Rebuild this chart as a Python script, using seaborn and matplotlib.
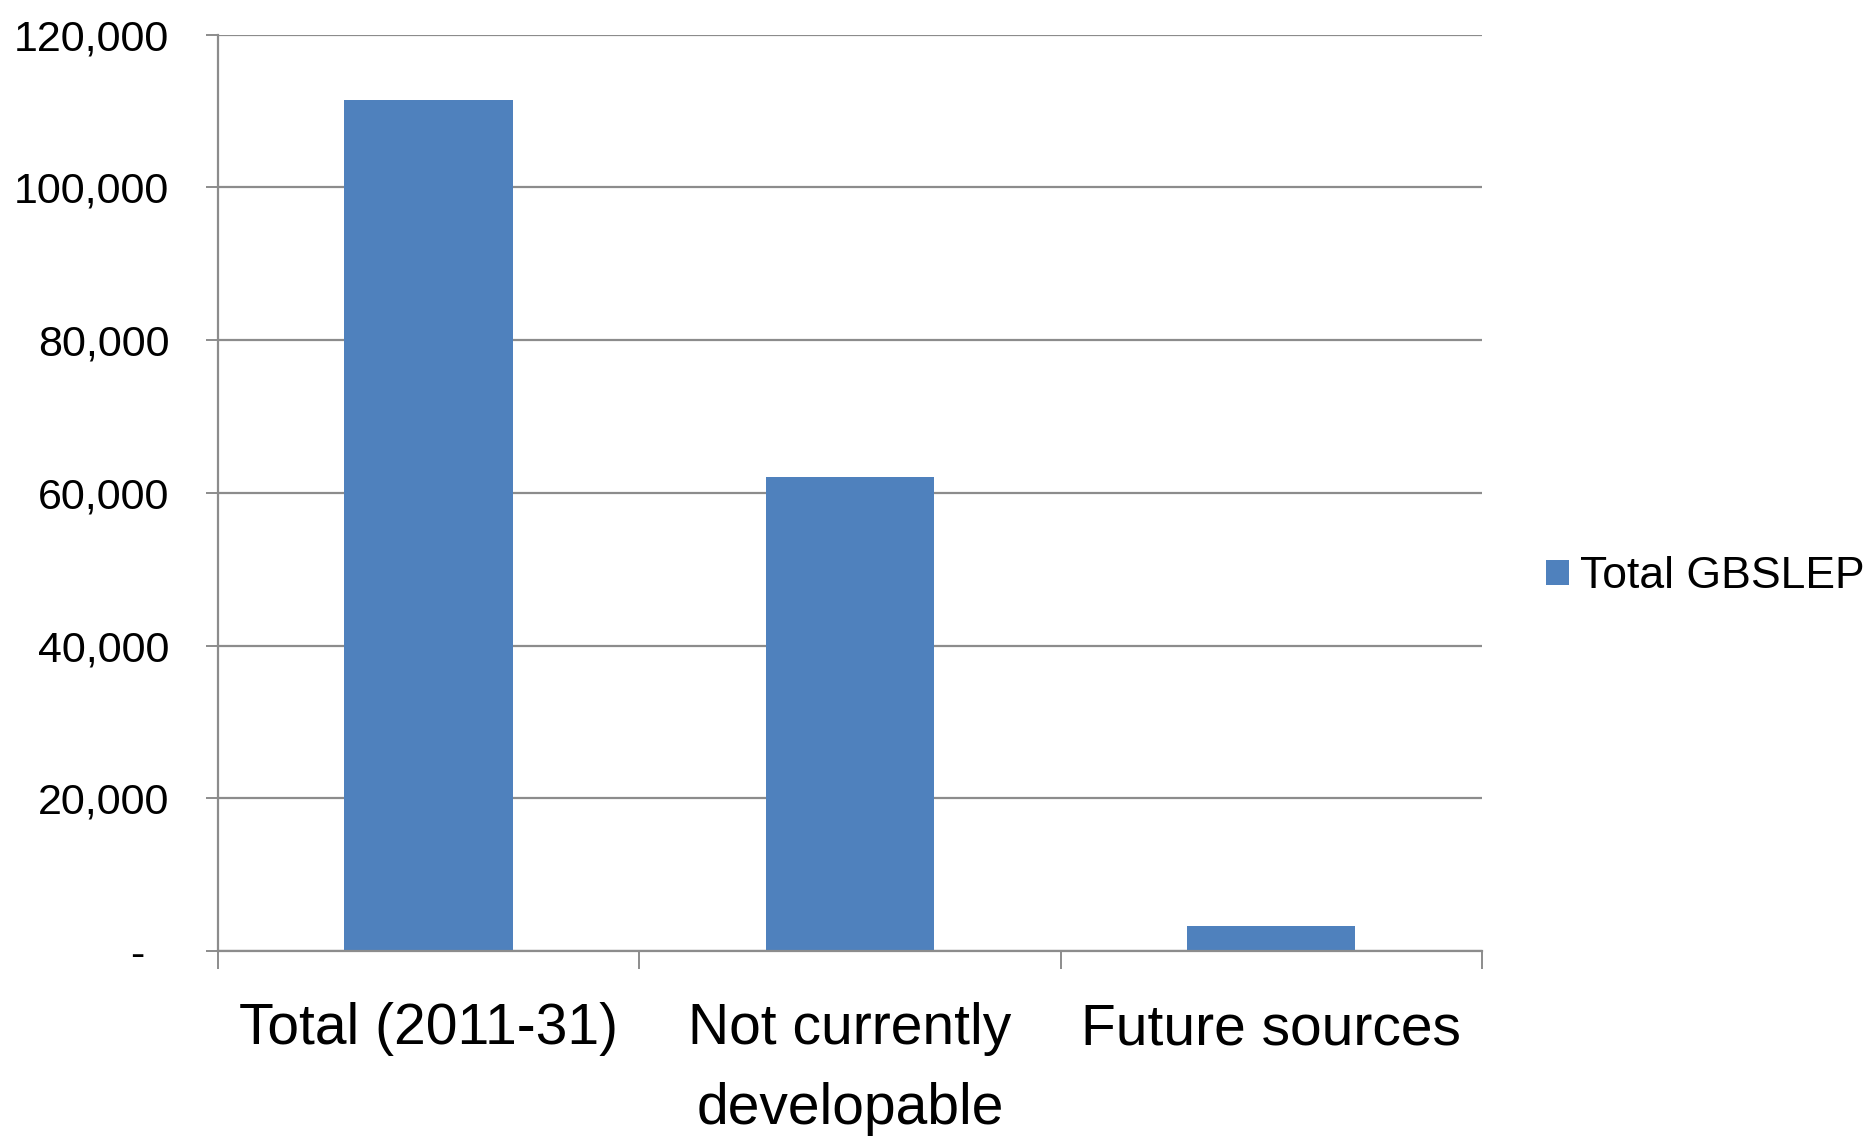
import matplotlib
matplotlib.use("Agg")
import matplotlib.pyplot as plt
from matplotlib.ticker import FuncFormatter, FixedLocator
import seaborn as sns
import pandas as pd

categories = ["Total (2011-31)", "Not currently\ndevelopable", "Future sources"]
values = [111500, 62100, 3300]
series_name = "Total GBSLEP"
y_ticks = [0, 20000, 40000, 60000, 80000, 100000, 120000]

sns.set_theme(style="white")
plt.rcParams["font.family"] = ["Liberation Sans", "DejaVu Sans"]
plt.rcParams["text.color"] = "black"
plt.rcParams["xtick.color"] = "black"
plt.rcParams["ytick.color"] = "black"

df = pd.DataFrame({"category": categories, "value": values, "series": series_name})

fig = plt.figure(figsize=(18.71, 11.38), dpi=100)
ax = fig.add_axes([0.1165, 0.1643, 0.6755, 0.8053])

sns.barplot(data=df, x="category", y="value", hue="series",
            palette=["#4F81BD"], saturation=1, width=0.40, ax=ax, legend=True,
            linewidth=0)

grid_color = "#8C8C8C"
ax.set_xlim(-0.5, 2.5)
ax.set_ylim(0, 120000)
ax.set_yticks(y_ticks)
ax.yaxis.set_major_formatter(FuncFormatter(lambda v, p: "-  " if v == 0 else f"{int(v):,}"))
ax.yaxis.grid(True, color=grid_color, linewidth=1.6)
ax.set_axisbelow(True)
ax.set_xlabel("")
ax.set_ylabel("")

for side in ["top", "right"]:
    ax.spines[side].set_visible(False)
for side in ["left", "bottom"]:
    ax.spines[side].set_color(grid_color)
    ax.spines[side].set_linewidth(1.6)

ax.tick_params(axis="y", which="major", direction="out", length=9, width=1.4,
               color=grid_color, left=True, pad=26, labelsize=31, labelcolor="black")
ax.tick_params(axis="x", which="major", length=0, pad=37, labelsize=41, labelcolor="black")
ax.xaxis.set_minor_locator(FixedLocator([-0.5, 0.5, 1.5, 2.5]))
ax.tick_params(axis="x", which="minor", direction="out", length=13, width=1.4,
               color=grid_color, bottom=True)
for lbl in ax.get_xticklabels():
    lbl.set_linespacing(1.62)

leg = ax.legend(loc="center left", bbox_to_anchor=(0.817, 0.493),
                bbox_transform=fig.transFigure, frameon=False,
                fontsize=32, handlelength=0.5, handleheight=0.5,
                handletextpad=0.25, borderaxespad=0)
for t in leg.get_texts():
    t.set_color("black")

fig.savefig("out.png", dpi=100, facecolor="white")
